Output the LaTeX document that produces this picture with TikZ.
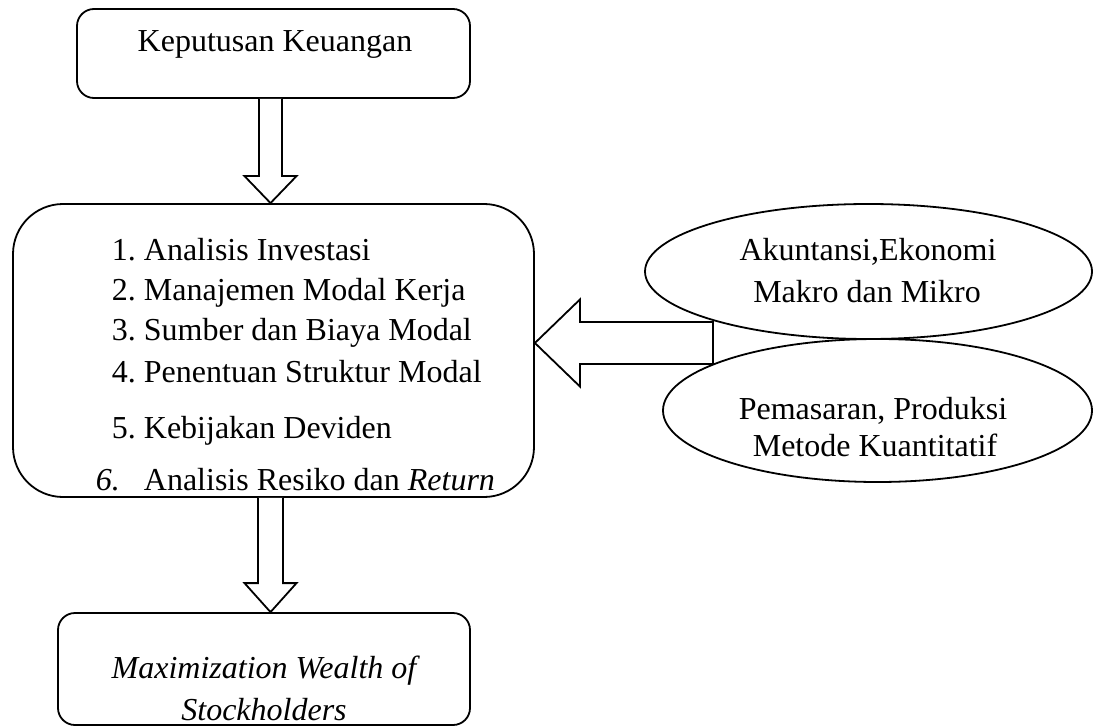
\documentclass[tikz,border=0pt]{standalone}
\usepackage{fontspec}
\setmainfont{Liberation Serif}
\usetikzlibrary{shapes.geometric,calc}
\begin{document}
\begin{tikzpicture}[x=0.5pt,y=-0.5pt,line width=0.9pt,
  every node/.style={font=\fontsize{16}{20}\selectfont},
  box/.style={draw,rounded corners=8.5pt,inner sep=0pt},
  oval/.style={draw,ellipse,fill=white,inner sep=0pt},
  txt/.style={anchor=base,inner sep=0pt},
  item/.style={anchor=base west,inner sep=0pt},
  blk/.style={draw,line join=miter,fill=white}]
\useasboundingbox (0,0) rectangle (1096,727);
% boxes
\node[box,minimum width=196.5pt,minimum height=44.5pt] (top) at (273.5,53.5) {};
\node[txt] (toptext) at (275,52) {Keputusan Keuangan};
\node[box,rounded corners=25pt,minimum width=260.5pt,minimum height=146.5pt] (main) at (273.5,350.5) {};
\node[box,minimum width=206pt,minimum height=56pt] (bot) at (264,669) {};
\node[txt] (bt1) at (264,678) {\itshape Maximization Wealth of};
\node[txt] (bt2) at (264,720) {\itshape Stockholders};
% list
\node[item] (i1) at (111,260) {\makebox[16pt][l]{1.}Analisis Investasi};
\node[item] (i2) at (111,300) {\makebox[16pt][l]{2.}Manajemen Modal Kerja};
\node[item] (i3) at (111,340) {\makebox[16pt][l]{3.}Sumber dan Biaya Modal};
\node[item] (i4) at (111,382) {\makebox[16pt][l]{4.}Penentuan Struktur Modal};
\node[item] (i5) at (111,438) {\makebox[16pt][l]{5.}Kebijakan Deviden};
\node[item] (i6) at (95,490) {\makebox[24pt][l]{\itshape 6.}Analisis Resiko dan \textit{Return}};
% arrows
\coordinate (c1) at (270.5,0);
\coordinate (lf) at (713,343);
\path (top.south -| c1) coordinate (a1s) (main.north -| c1) coordinate (a1e);
\path (main.south -| c1) coordinate (b1s) (bot.north -| c1) coordinate (b1e);
\path (main.east |- lf) coordinate (ltip);
\draw[blk] ($(a1s)+(-11.5,0)$) -- ($(a1e)+(-11.5,-27)$) -- ($(a1e)+(-26,-27)$) -- (a1e)
  -- ($(a1e)+(26,-27)$) -- ($(a1e)+(11.5,-27)$) -- ($(a1s)+(11.5,0)$);
\draw[blk] ($(b1s)+(-12.5,0)$) -- ($(b1e)+(-12.5,-29)$) -- ($(b1e)+(-26,-29)$) -- (b1e)
  -- ($(b1e)+(26,-29)$) -- ($(b1e)+(12.5,-29)$) -- ($(b1s)+(12.5,0)$);
\draw[blk] ($(lf)+(0,-21)$) -- ($(ltip)+(45,-21)$) -- ($(ltip)+(45,-43.5)$) -- (ltip)
  -- ($(ltip)+(45,43.5)$) -- ($(ltip)+(45,21)$) -- ($(lf)+(0,21)$) -- cycle;
% ellipses
\node[oval,minimum width=223.5pt,minimum height=67.5pt] (e1) at (868.5,271.5) {};
\node[oval,minimum width=214.5pt,minimum height=71.5pt] (e2) at (877.5,410.5) {};
\node[txt] (e1a) at (868,260) {Akuntansi,Ekonomi};
\node[txt] (e1b) at (867,302) {Makro dan Mikro};
\node[txt] (e2a) at (873,419) {Pemasaran, Produksi};
\node[txt] (e2b) at (875,456) {Metode Kuantitatif};
\end{tikzpicture}
\end{document}
